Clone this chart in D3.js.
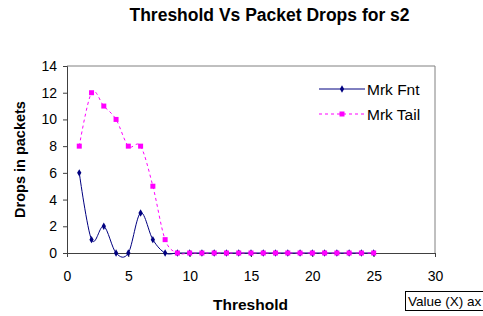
<!DOCTYPE html>
<html><head><meta charset="utf-8">
<script src="https://cdn.jsdelivr.net/npm/d3@7"></script>
<style>body{margin:0;background:#fff;}svg{display:block;}text{font-family:Arial,"Liberation Sans",sans-serif;}</style>
</head><body>
<script>
const thresholds = [1,2,3,4,5,6,7,8,9,10,11,12,13,14,15,16,17,18,19,20,21,22,23,24,25];
const mrkFnt  = [6,1,2,0,0,3,1,0,0,0,0,0,0,0,0,0,0,0,0,0,0,0,0,0,0];
const mrkTail = [8,12,11,10,8,8,5,1,0,0,0,0,0,0,0,0,0,0,0,0,0,0,0,0,0];
const xTicks = [0,5,10,15,20,25,30];
const yTicks = [0,2,4,6,8,10,12,14];

const W=483,H=316;
const svg=d3.select("body").append("svg").attr("width",W).attr("height",H);
const x=d3.scaleLinear().domain([0,30]).range([67,435]);
const y=d3.scaleLinear().domain([0,14]).range([253,66]);

svg.append("path").attr("d",`M${x(0)},${y(14)}H${x(30)}V${y(0)}`).attr("fill","none").attr("stroke","#808080").attr("stroke-width",1);

const xa=svg.append("g").attr("transform",`translate(0,${y(0)})`).call(d3.axisBottom(x).tickValues(xTicks).tickSize(4).tickPadding(14));
const ya=svg.append("g").attr("transform",`translate(${x(0)},0)`).call(d3.axisLeft(y).tickValues(yTicks).tickSize(4).tickPadding(6));
[xa,ya].forEach(a=>{a.selectAll("path,line").attr("stroke","#404040");a.selectAll("text").attr("font-size",14).attr("fill","#000").attr("font-family","Arial, 'Liberation Sans', sans-serif");});

const curve=d3.curveCatmullRom.alpha(0);
const series=[
 {name:"Mrk Fnt",vals:mrkFnt,color:"#000080",dash:null,shape:"diamond"},
 {name:"Mrk Tail",vals:mrkTail,color:"#FF00FF",dash:"3,3",shape:"square"}
];
series.forEach(s=>{
  const pts=thresholds.map((t,i)=>[t,s.vals[i]]);
  svg.append("path").datum(pts).attr("fill","none").attr("stroke",s.color).attr("stroke-width",1)
    .attr("stroke-dasharray",s.dash)
    .attr("d",d3.line().x(d=>x(d[0])).y(d=>y(d[1])).curve(curve));
});
series.forEach(s=>{
  const pts=thresholds.map((t,i)=>[t,s.vals[i]]);
  if(s.shape==="square"){
    svg.selectAll(null).data(pts).enter().append("rect")
      .attr("x",d=>x(d[0])-2.5).attr("y",d=>y(d[1])-2.5).attr("width",5).attr("height",5).attr("fill",s.color);
  } else {
    svg.selectAll(null).data(pts).enter().append("path")
      .attr("d",d3.symbol().type(d3.symbolDiamond).size(16)).attr("transform",d=>`translate(${x(d[0])},${y(d[1])})`).attr("fill",s.color);
  }
});

series.forEach((s,i)=>{
  const ly=89+i*25;
  svg.append("line").attr("x1",319).attr("x2",365).attr("y1",ly).attr("y2",ly).attr("stroke",s.color).attr("stroke-dasharray",s.dash);
  if(s.shape==="square") svg.append("rect").attr("x",339.5).attr("y",ly-2.5).attr("width",5).attr("height",5).attr("fill",s.color);
  else svg.append("path").attr("d",d3.symbol().type(d3.symbolDiamond).size(16)).attr("transform",`translate(342,${ly})`).attr("fill",s.color);
  svg.append("text").attr("x",367).attr("y",ly+5.5).attr("font-size",15.5).text(s.name);
});

svg.append("text").attr("x",269.5).attr("y",21).attr("text-anchor","middle").attr("font-size",17.5).attr("font-weight","bold").text("Threshold Vs Packet Drops for s2");
svg.append("text").attr("x",250.5).attr("y",310).attr("text-anchor","middle").attr("font-size",15.5).attr("font-weight","bold").text("Threshold");
svg.append("text").attr("transform",`translate(25,${y(7)}) rotate(-90)`).attr("text-anchor","middle").attr("font-size",14.5).attr("font-weight","bold").text("Drops in packets");

svg.append("rect").attr("x",405.5).attr("y",291.5).attr("width",90).attr("height",19).attr("fill","#fff").attr("stroke","#000");
svg.append("text").attr("x",408).attr("y",306).attr("font-size",13.5).text("Value (X) ax");
</script>
</body></html>
